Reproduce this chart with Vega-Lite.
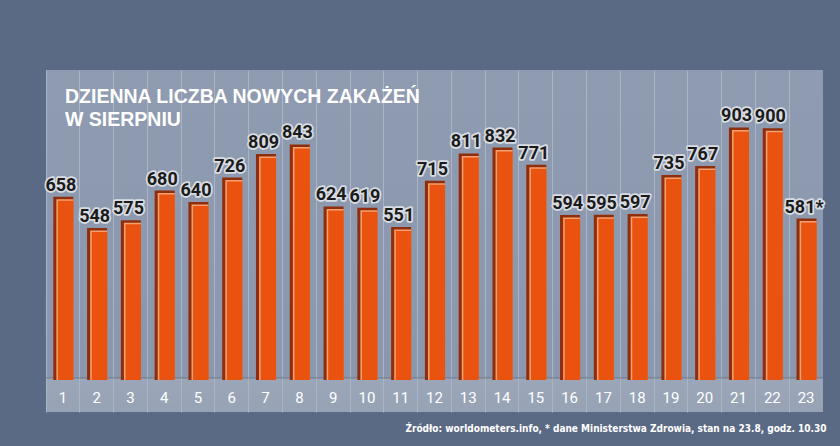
{
  "$schema": "https://vega.github.io/schema/vega-lite/v6.json",
  "width": 777,
  "height": 342,
  "autosize": {"type": "none"},
  "padding": {"left": 46, "top": 70, "right": 17, "bottom": 34},
  "background": "#5a6984",
  "config": {
    "view": {
      "stroke": null,
      "fill": {
        "gradient": "linear", "x1": 0, "y1": 0, "x2": 0, "y2": 1,
        "stops": [
          {"offset": 0, "color": "#8e9bb0"},
          {"offset": 0.9, "color": "#8a97ad"},
          {"offset": 0.9006, "color": "#9ba7b9"},
          {"offset": 1, "color": "#97a3b5"}
        ]
      }
    }
  },
  "title": {
    "text": ["DZIENNA LICZBA NOWYCH ZAKAŻEŃ", "W SIERPNIU"],
    "anchor": "start",
    "frame": "group",
    "orient": "top",
    "offset": 0,
    "dx": 19,
    "dy": 60,
    "baseline": "top",
    "color": "#ffffff",
    "font": "Liberation Sans",
    "fontSize": 19.5,
    "fontWeight": "bold",
    "lineHeight": 23
  },
  "data": {
    "values": [
      {"day": "1", "value": 658, "label": "658"},
      {"day": "2", "value": 548, "label": "548"},
      {"day": "3", "value": 575, "label": "575"},
      {"day": "4", "value": 680, "label": "680"},
      {"day": "5", "value": 640, "label": "640"},
      {"day": "6", "value": 726, "label": "726"},
      {"day": "7", "value": 809, "label": "809"},
      {"day": "8", "value": 843, "label": "843"},
      {"day": "9", "value": 624, "label": "624"},
      {"day": "10", "value": 619, "label": "619"},
      {"day": "11", "value": 551, "label": "551"},
      {"day": "12", "value": 715, "label": "715"},
      {"day": "13", "value": 811, "label": "811"},
      {"day": "14", "value": 832, "label": "832"},
      {"day": "15", "value": 771, "label": "771"},
      {"day": "16", "value": 594, "label": "594"},
      {"day": "17", "value": 595, "label": "595"},
      {"day": "18", "value": 597, "label": "597"},
      {"day": "19", "value": 735, "label": "735"},
      {"day": "20", "value": 767, "label": "767"},
      {"day": "21", "value": 903, "label": "903"},
      {"day": "22", "value": 900, "label": "900"},
      {"day": "23", "value": 581, "label": "581*"}
    ]
  },
  "encoding": {
    "x": {
      "field": "day",
      "type": "ordinal",
      "sort": null,
      "scale": {"paddingInner": 0, "paddingOuter": 0},
      "axis": {
        "title": "Źródło: worldometers.info, * dane Ministerstwa Zdrowia, stan na 23.8, godz. 10.30",
        "titleX": 780,
        "titleY": 19,
        "titleAlign": "right",
        "titleAnchor": "end",
        "titleBaseline": "alphabetic",
        "titleColor": "#ffffff",
        "titleFont": "DejaVu Sans Condensed",
        "titleFontSize": 10,
        "titleFontWeight": "bold",
        "labelAngle": 0,
        "labelColor": "#ffffff",
        "labelFont": "Roboto",
        "labelFontSize": 15,
        "labelPadding": -15,
        "labelBaseline": "middle",
        "ticks": false,
        "tickSize": 0,
        "domain": false,
        "grid": true,
        "gridColor": "#a9b4c5",
        "gridWidth": 1,
        "bandPosition": 0
      }
    }
  },
  "layer": [
    {
      "mark": {"type": "bar", "width": {"band": 1}, "color": "#4c525e"},
      "encoding": {
        "y": {"datum": 31, "scale": {"domain": [-88, 1120], "nice": false, "zero": false}, "axis": null},
        "y2": {"datum": 33}
      }
    },
    {
      "mark": {"type": "bar", "width": 20, "xOffset": 0.4, "yOffset": -4, "color": "#8f2e0c"},
      "encoding": {
        "y": {
          "field": "value",
          "type": "quantitative",
          "scale": {"domain": [-88, 1120], "nice": false, "zero": false},
          "axis": {
            "title": null,
            "values": [148, 256, 364, 472, 580, 688, 796, 904, 1012],
            "grid": true,
            "gridColor": "#a7b2c3",
            "labels": false,
            "ticks": false,
            "domain": false
          }
        },
        "y2": {"datum": 25}
      }
    },
    {
      "mark": {"type": "bar", "width": 17, "xOffset": 2, "yOffset": -1.5, "color": "#f5a070"},
      "encoding": {
        "y": {"field": "value", "type": "quantitative", "scale": {"domain": [-88, 1120], "nice": false, "zero": false}, "axis": null},
        "y2": {"datum": 25}
      }
    },
    {
      "mark": {"type": "bar", "width": 15.5, "xOffset": 2.8, "color": "#e9530f"},
      "encoding": {
        "y": {"field": "value", "type": "quantitative", "scale": {"domain": [-88, 1120], "nice": false, "zero": false}, "axis": null},
        "y2": {"datum": 25}
      }
    },
    {
      "mark": {
        "type": "text",
        "font": "Roboto",
        "fontSize": 18,
        "fontWeight": "bold",
        "dx": -2,
        "dy": -10,
        "baseline": "alphabetic",
        "fill": "#d9dde3",
        "stroke": "#d9dde3",
        "strokeWidth": 3.5,
        "strokeJoin": "round"
      },
      "encoding": {
        "y": {"field": "value", "type": "quantitative", "scale": {"domain": [-88, 1120], "nice": false, "zero": false}, "axis": null},
        "text": {"field": "label"}
      }
    },
    {
      "mark": {
        "type": "text",
        "font": "Roboto",
        "fontSize": 18,
        "fontWeight": "bold",
        "dx": -2,
        "dy": -10,
        "baseline": "alphabetic",
        "fill": "#1b1b1b"
      },
      "encoding": {
        "y": {"field": "value", "type": "quantitative", "scale": {"domain": [-88, 1120], "nice": false, "zero": false}, "axis": null},
        "text": {"field": "label"}
      }
    }
  ]
}
